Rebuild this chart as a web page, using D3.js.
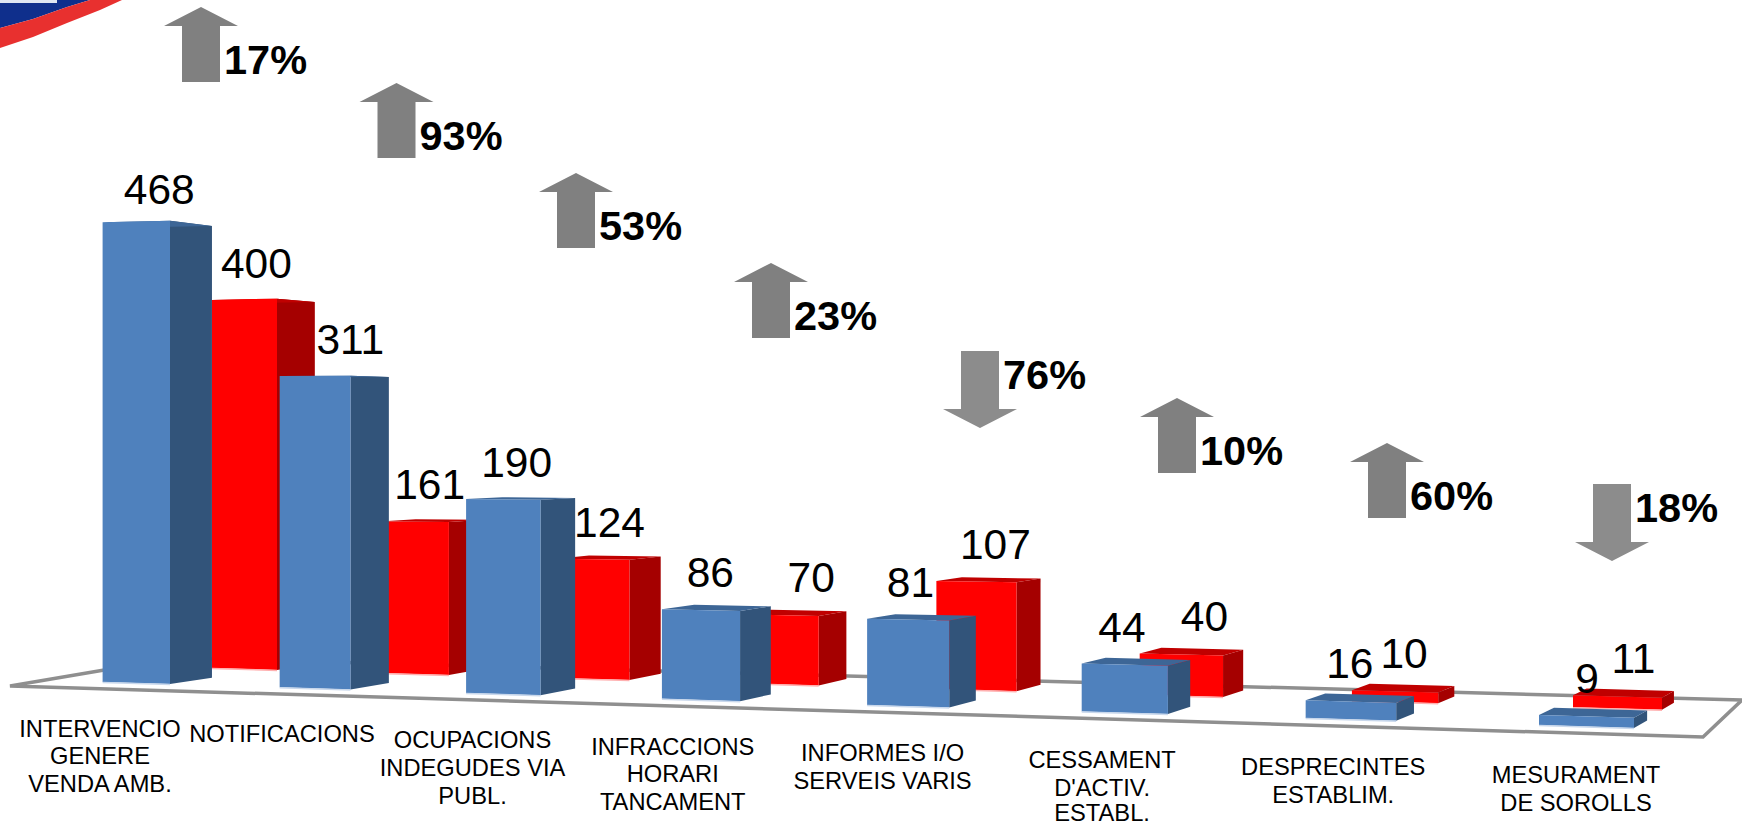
<!DOCTYPE html>
<html><head><meta charset="utf-8">
<script src="https://cdn.jsdelivr.net/npm/d3@7/dist/d3.min.js"></script>
<style>html,body{margin:0;padding:0;background:#fff;overflow:hidden}svg{display:block}text{font-family:"Liberation Sans",Arial,sans-serif;fill:#000}</style>
</head><body><svg id="c" width="1742" height="826"></svg>
<script>
// ---- data ----
const categories = [
  ["INTERVENCIO","GENERE","VENDA AMB."],
  ["NOTIFICACIONS"],
  ["OCUPACIONS","INDEGUDES VIA","PUBL."],
  ["INFRACCIONS","HORARI","TANCAMENT"],
  ["INFORMES I/O","SERVEIS VARIS"],
  ["CESSAMENT","D'ACTIV.","ESTABL."],
  ["DESPRECINTES","ESTABLIM."],
  ["MESURAMENT","DE SOROLLS"]
];
const blueValues = [468,311,190,86,81,44,16,9];
const redValues  = [400,161,124,70,107,40,10,11];
const changePct  = [17,93,53,23,76,10,60,18];
const changeDir  = ["up","up","up","up","down","up","up","down"];

// ---- annotation layout ----
const arrowCentreX = [201,396.5,576,771,980,1177,1387,1612];
const arrowTopY    = [7,83,173,263,351,398,443,484];
const blueLabelNudge = [2,16,-4,-6,-11,-14,-10,-6];
const redLabelNudge  = [-7,-2,1,17,7,13,1,10];
const blueLabelDrop  = [4,0,0,0,0,0,0,0];
const redLabelDrop   = [0,0,0,0,0,0,0,0];
const catNudge       = [0,0,-1,-2,-3,-4,-3,0];

// ---- perspective model ----
const svg = d3.select("#c");
const warp = (t,k) => (1-k)*t + k*t*t;           // bars widen towards the viewer on the right
const indexT = d3.scaleLinear().domain([0,categories.length-1]).range([0,1]);
const edge = (a,b,k=.16) => { const s = d3.scaleLinear().domain([0,1]).range([a,b]); return i => s(warp(indexT(i),k)); };
const valueH = d3.scaleLinear().domain([0,100]).range([0,100]);

const series = [
  {name:"red", values:redValues, left:edge(212,1573), right:edge(277,1662,.153),
   baseA:662, baseM:.0287, hA:.895, hM:.00012, depthX:.0187,
   front:"#ff0000", side:"#a50000", top:"#c00000", lip:"#ffb0b0", nudge:redLabelNudge, drop:redLabelDrop},
  {name:"blue", values:blueValues, left:edge(102.6,1539), right:edge(170,1634),
   baseA:679, baseM:.02994, hA:.972, hM:.000105, depthX:.0197,
   front:"#4f81bd", side:"#32547a", top:"#3d6696", lip:"#c9d8ec", nudge:blueLabelNudge, drop:blueLabelDrop}
];
const VPX = 2300, VPY = 430, DEPTHY = .025;
const back = (s,[x,y]) => [x + s.depthX*(VPX-x), y + DEPTHY*(VPY-y)];
const base = (s,x) => s.baseA + s.baseM*x;
const topAt = (s,x,v) => base(s,x) - valueH(v)*(s.hA + s.hM*x);
const poly = pts => pts.map(p=>p.join(",")).join(" ");

// ---- corner logo ----
svg.append("path").attr("d","M0,0H90L67,7L33,19L0,28Z").attr("fill","#0f2f8c");
svg.append("rect").attr("x",0).attr("y",0).attr("width",57).attr("height",3).attr("fill","#dfe6f2");
svg.append("path").attr("d","M0,28L33,19L67,7L90,0H122L100,10L67,23L33,37L0,48Z").attr("fill","#e8302f");

// ---- floor ----
const floorPts = [[10,686],[175,658],[1742,700],[1703,737]];
svg.append("polygon").attr("points",poly(floorPts))
  .attr("fill","#fff").attr("stroke","#8f8f8f").attr("stroke-width",3.5).attr("stroke-linejoin","miter");

// ---- bars: all red first, blue in front ----
series.forEach(s=>{
  const g = svg.append("g").attr("class",s.name);
  const bars = g.selectAll("g").data(s.values).join("g");
  bars.each(function(v,i){
    const xl = s.left(i), xr = s.right(i);
    const FL=[xl,topAt(s,xl,v)], FR=[xr,topAt(s,xr,v)], BL=[xl,base(s,xl)], BR=[xr,base(s,xr)];
    const sel = d3.select(this);
    sel.append("polygon").attr("points",poly([FR,back(s,FR),back(s,BR),BR])).attr("fill",s.side);
    sel.append("polygon").attr("points",poly([FL,back(s,FL),back(s,FR),FR])).attr("fill",s.top);
    sel.append("polygon").attr("points",poly([FL,FR,BR,BL])).attr("fill",s.front);
    sel.append("line").attr("x1",BL[0]).attr("y1",BL[1]+.5).attr("x2",BR[0]).attr("y2",BR[1]+.5)
       .attr("stroke",s.lip).attr("stroke-width",1.5);
  });
});

// ---- value labels ----
series.forEach(s=>{
  svg.append("g").selectAll("text").data(s.values).join("text")
    .attr("x",(v,i)=>(s.left(i)+back(s,[s.right(i),0])[0])/2 + s.nudge[i])
    .attr("y",(v,i)=>topAt(s,s.left(i),v)-22+s.drop[i])
    .attr("text-anchor","middle").attr("font-size",42.5).text(v=>v);
});

// ---- category labels ----
const catX = edge(100,1576);
const catG = svg.append("g").selectAll("text").data(categories).join("text")
  .attr("text-anchor","middle").attr("font-size",23.7);
catG.each(function(lines,i){
  const x = catX(i)+catNudge[i], y0 = 733.6 + .0314*x;
  d3.select(this).selectAll("tspan").data(lines).join("tspan")
    .attr("x",x).attr("y",(d,k)=>Math.min(y0+k*27.7,820.5)).text(d=>d);
});

// ---- change arrows ----
const SHAFT=19, HEAD=37;
changePct.forEach((p,i)=>{
  const cx=arrowCentreX[i], t=arrowTopY[i], up=changeDir[i]==="up";
  const pts = up
    ? [[cx,t],[cx+HEAD,t+19],[cx+SHAFT,t+19],[cx+SHAFT,t+75],[cx-SHAFT,t+75],[cx-SHAFT,t+19],[cx-HEAD,t+19]]
    : [[cx-SHAFT,t],[cx+SHAFT,t],[cx+SHAFT,t+58],[cx+HEAD,t+58],[cx,t+77],[cx-HEAD,t+58],[cx-SHAFT,t+58]];
  svg.append("polygon").attr("points",poly(pts)).attr("fill",up?"#808080":"#8c8c8c");
  svg.append("text").attr("x",cx+SHAFT+4).attr("y",up?t+67:t+38)
    .attr("font-size",41.5).attr("font-weight","bold").text(p+"%");
});
</script></body></html>
